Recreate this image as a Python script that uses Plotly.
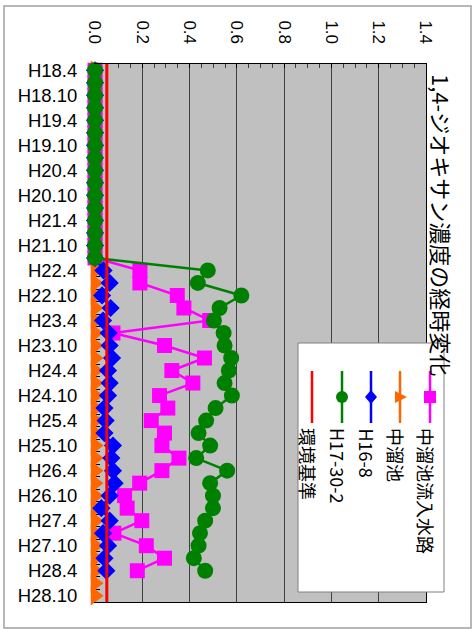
import plotly.graph_objects as go

# ---------------- data ----------------
categories = [
    "H18.4", "H18.7", "H18.10",
    "H19.1", "H19.4", "H19.7", "H19.10",
    "H20.1", "H20.4", "H20.7", "H20.10",
    "H21.1", "H21.4", "H21.7", "H21.10",
    "H22.1", "H22.4", "H22.7", "H22.10",
    "H23.1", "H23.4", "H23.7", "H23.10",
    "H24.1", "H24.4", "H24.7", "H24.10",
    "H25.1", "H25.4", "H25.7", "H25.10",
    "H26.1", "H26.4", "H26.7", "H26.10",
    "H27.1", "H27.4", "H27.7", "H27.10",
    "H28.1", "H28.4", "H28.7", "H28.10",
]

inflow = [0, 0, 0, 0, 0, 0, 0, 0, 0, 0, 0, 0, 0, 0, 0, 0,
          0.19, 0.19, 0.348, 0.376, 0.485, 0.076, 0.294, 0.463, 0.325, 0.414,
          0.273, 0.308, 0.238, 0.294, 0.283, 0.355, 0.283, 0.189, 0.125, 0.136,
          0.198, 0.08, 0.217, 0.294, 0.179, None, None]

pond = [0, 0, 0, 0, 0, 0, 0, 0, 0, 0, 0, 0, 0, 0, 0, 0,
        0, 0, 0, 0, 0, 0, 0, 0, 0, 0, 0, 0, 0, 0, 0, 0,
        0, 0, 0, 0, 0, 0, 0, 0, 0, 0, 0]

h16_8 = [0, 0, 0, 0, 0, 0, 0, 0, 0, 0, 0, 0, 0, 0, 0, 0,
         0.036, 0.062, 0.03, 0.066, 0.034, 0.058, 0.062, 0.072, 0.055, 0.062,
         0.055, 0.04, 0.045, 0.04, 0.076, 0.069, 0.076, 0.083, 0.062, 0.027,
         0.062, 0.034, 0.055, 0.04, 0.048, None, None]

h17_30_2 = [0, 0, 0, 0, 0, 0, 0, 0, 0, 0, 0, 0, 0, 0, 0, 0,
            0.477, 0.435, 0.619, 0.527, 0.503, 0.544, 0.548, 0.576, 0.566, 0.548,
            0.579, 0.51, 0.47, 0.438, 0.487, 0.428, 0.559, 0.487, 0.499, 0.499,
            0.466, 0.444, 0.438, 0.418, 0.466, None, None]

env_standard = 0.05

value_ticks = [0.0, 0.2, 0.4, 0.6, 0.8, 1.0, 1.2, 1.4]
title_text = "1,4-ジオキサン濃度の経時変化"

series_names = ["中溜池流入水路", "中溜池", "H16-8", "H17-30-2", "環境基準"]
series_colors = ["#FF00FF", "#FF6600", "#0000FF", "#008000", "#FF0000"]

# ---------------- layout geometry ----------------
W, H = 474, 629
ML, MR, MT, MB = 95, 48, 64, 27
PW, PH = W - ML - MR, H - MT - MB


def px2x(px):
    return (px - ML) / PW


def py2y(py):
    return (H - MB - py) / PH


JP = "Noto Sans CJK JP, Noto Sans CJK SC, sans-serif"
LAT = "Liberation Sans, Arial, Noto Sans CJK JP, sans-serif"

fig = go.Figure()

trace_specs = [
    (inflow, series_names[0], series_colors[0], "square", 15),
    (pond, series_names[1], series_colors[1], "triangle-right", 17),
    (h16_8, series_names[2], series_colors[2], "diamond", 14),
    (h17_30_2, series_names[3], series_colors[3], "circle", 16),
]
for vals, name, col, sym, sz in trace_specs:
    fig.add_trace(go.Scatter(
        x=vals, y=categories, name=name, mode="lines+markers",
        line=dict(color=col, width=2.5),
        marker=dict(color=col, symbol=sym, size=sz, line=dict(width=0)),
        cliponaxis=False, connectgaps=False, showlegend=False,
    ))

shapes = []
# environmental standard line
shapes.append(dict(type="line", xref="x", yref="paper", x0=env_standard, x1=env_standard,
                   y0=0, y1=1, line=dict(color=series_colors[4], width=3), layer="above"))

# outer border
shapes.append(dict(type="rect", xref="paper", yref="paper",
                   x0=px2x(4), x1=px2x(471), y0=py2y(628), y1=py2y(6),
                   line=dict(color="#A0A0A0", width=1.5), fillcolor="rgba(0,0,0,0)", layer="above"))

# legend box
shapes.append(dict(type="rect", xref="paper", yref="paper",
                   x0=px2x(298), x1=px2x(444), y0=py2y(592), y1=py2y(343),
                   line=dict(color="#808080", width=1), fillcolor="white", layer="above"))

leg_x = [430, 400, 371, 342, 312]
sym_paths = {
    "triangle-right": "M-5,6L7,0L-5,-6Z",
    "diamond": "M0,7L6,0L0,-7L-6,0Z",
}
leg_syms = ["square", "triangle-right", "diamond", "circle", None]
annotations = []
for i, name in enumerate(series_names):
    xc = leg_x[i]
    col = series_colors[i]
    shapes.append(dict(type="line", xref="paper", yref="paper",
                       x0=px2x(xc), x1=px2x(xc), y0=py2y(423), y1=py2y(371),
                       line=dict(color=col, width=2.5), layer="above"))
    s = leg_syms[i]
    common = dict(xref="paper", yref="paper", xsizemode="pixel", ysizemode="pixel",
                  xanchor=px2x(xc), yanchor=py2y(397), fillcolor=col,
                  line=dict(color=col, width=0), layer="above")
    if s == "square":
        shapes.append(dict(type="rect", x0=-6, x1=6, y0=-6, y1=6, **common))
    elif s == "circle":
        shapes.append(dict(type="circle", x0=-6, x1=6, y0=-6, y1=6, **common))
    elif s is not None:
        shapes.append(dict(type="path", path=sym_paths[s], **common))
    annotations.append(dict(xref="paper", yref="paper", x=px2x(xc - 4), y=py2y(426),
                            xanchor="center", yanchor="top", text=name, textangle=90,
                            showarrow=False, font=dict(family=JP, size=18, color="black")))

annotations.insert(0, dict(xref="paper", yref="paper", x=px2x(442), y=py2y(72),
                           xanchor="center", yanchor="top", text=title_text, textangle=90,
                           showarrow=False, font=dict(family=JP, size=22, color="black")))

fig.update_layout(
    template="none",
    width=W, height=H,
    margin=dict(l=ML, r=MR, t=MT, b=MB, pad=0, autoexpand=False),
    paper_bgcolor="white", plot_bgcolor="#C0C0C0",
    showlegend=False,
    shapes=shapes, annotations=annotations,
    xaxis=dict(
        side="top", range=[0, 1.4], tickvals=value_ticks,
        tickformat=".1f", tickangle=90, automargin=False,
        tickfont=dict(family=LAT, size=17, color="black"),
        showgrid=True, gridcolor="#404040", gridwidth=1, zeroline=False,
        showline=True, linecolor="black", linewidth=1, mirror=True,
        ticks="inside", ticklen=4, tickcolor="black",
        minor=dict(dtick=0.05, ticks="inside", ticklen=4, tickcolor="#404040", showgrid=False),
        ticklabelstandoff=13, fixedrange=True,
    ),
    yaxis=dict(
        type="category", categoryorder="array", categoryarray=categories,
        range=[len(categories) - 0.5, -0.5], automargin=False,
        tickvals=categories,
        ticktext=[c if i % 2 == 0 else "" for i, c in enumerate(categories)],
        tickfont=dict(family=LAT, size=18.5, color="black"),
        showgrid=False, zeroline=False,
        showline=True, linecolor="black", linewidth=1, mirror=True,
        ticks="inside", ticklen=5, tickcolor="black", tickson="boundaries",
        ticklabelstandoff=13, layer="below traces", fixedrange=True,
    ),
)

fig.write_html(
    "out.html",
    config={"displayModeBar": False},
    post_script="document.body.style.margin='0px';document.body.style.overflow='hidden';",
)
